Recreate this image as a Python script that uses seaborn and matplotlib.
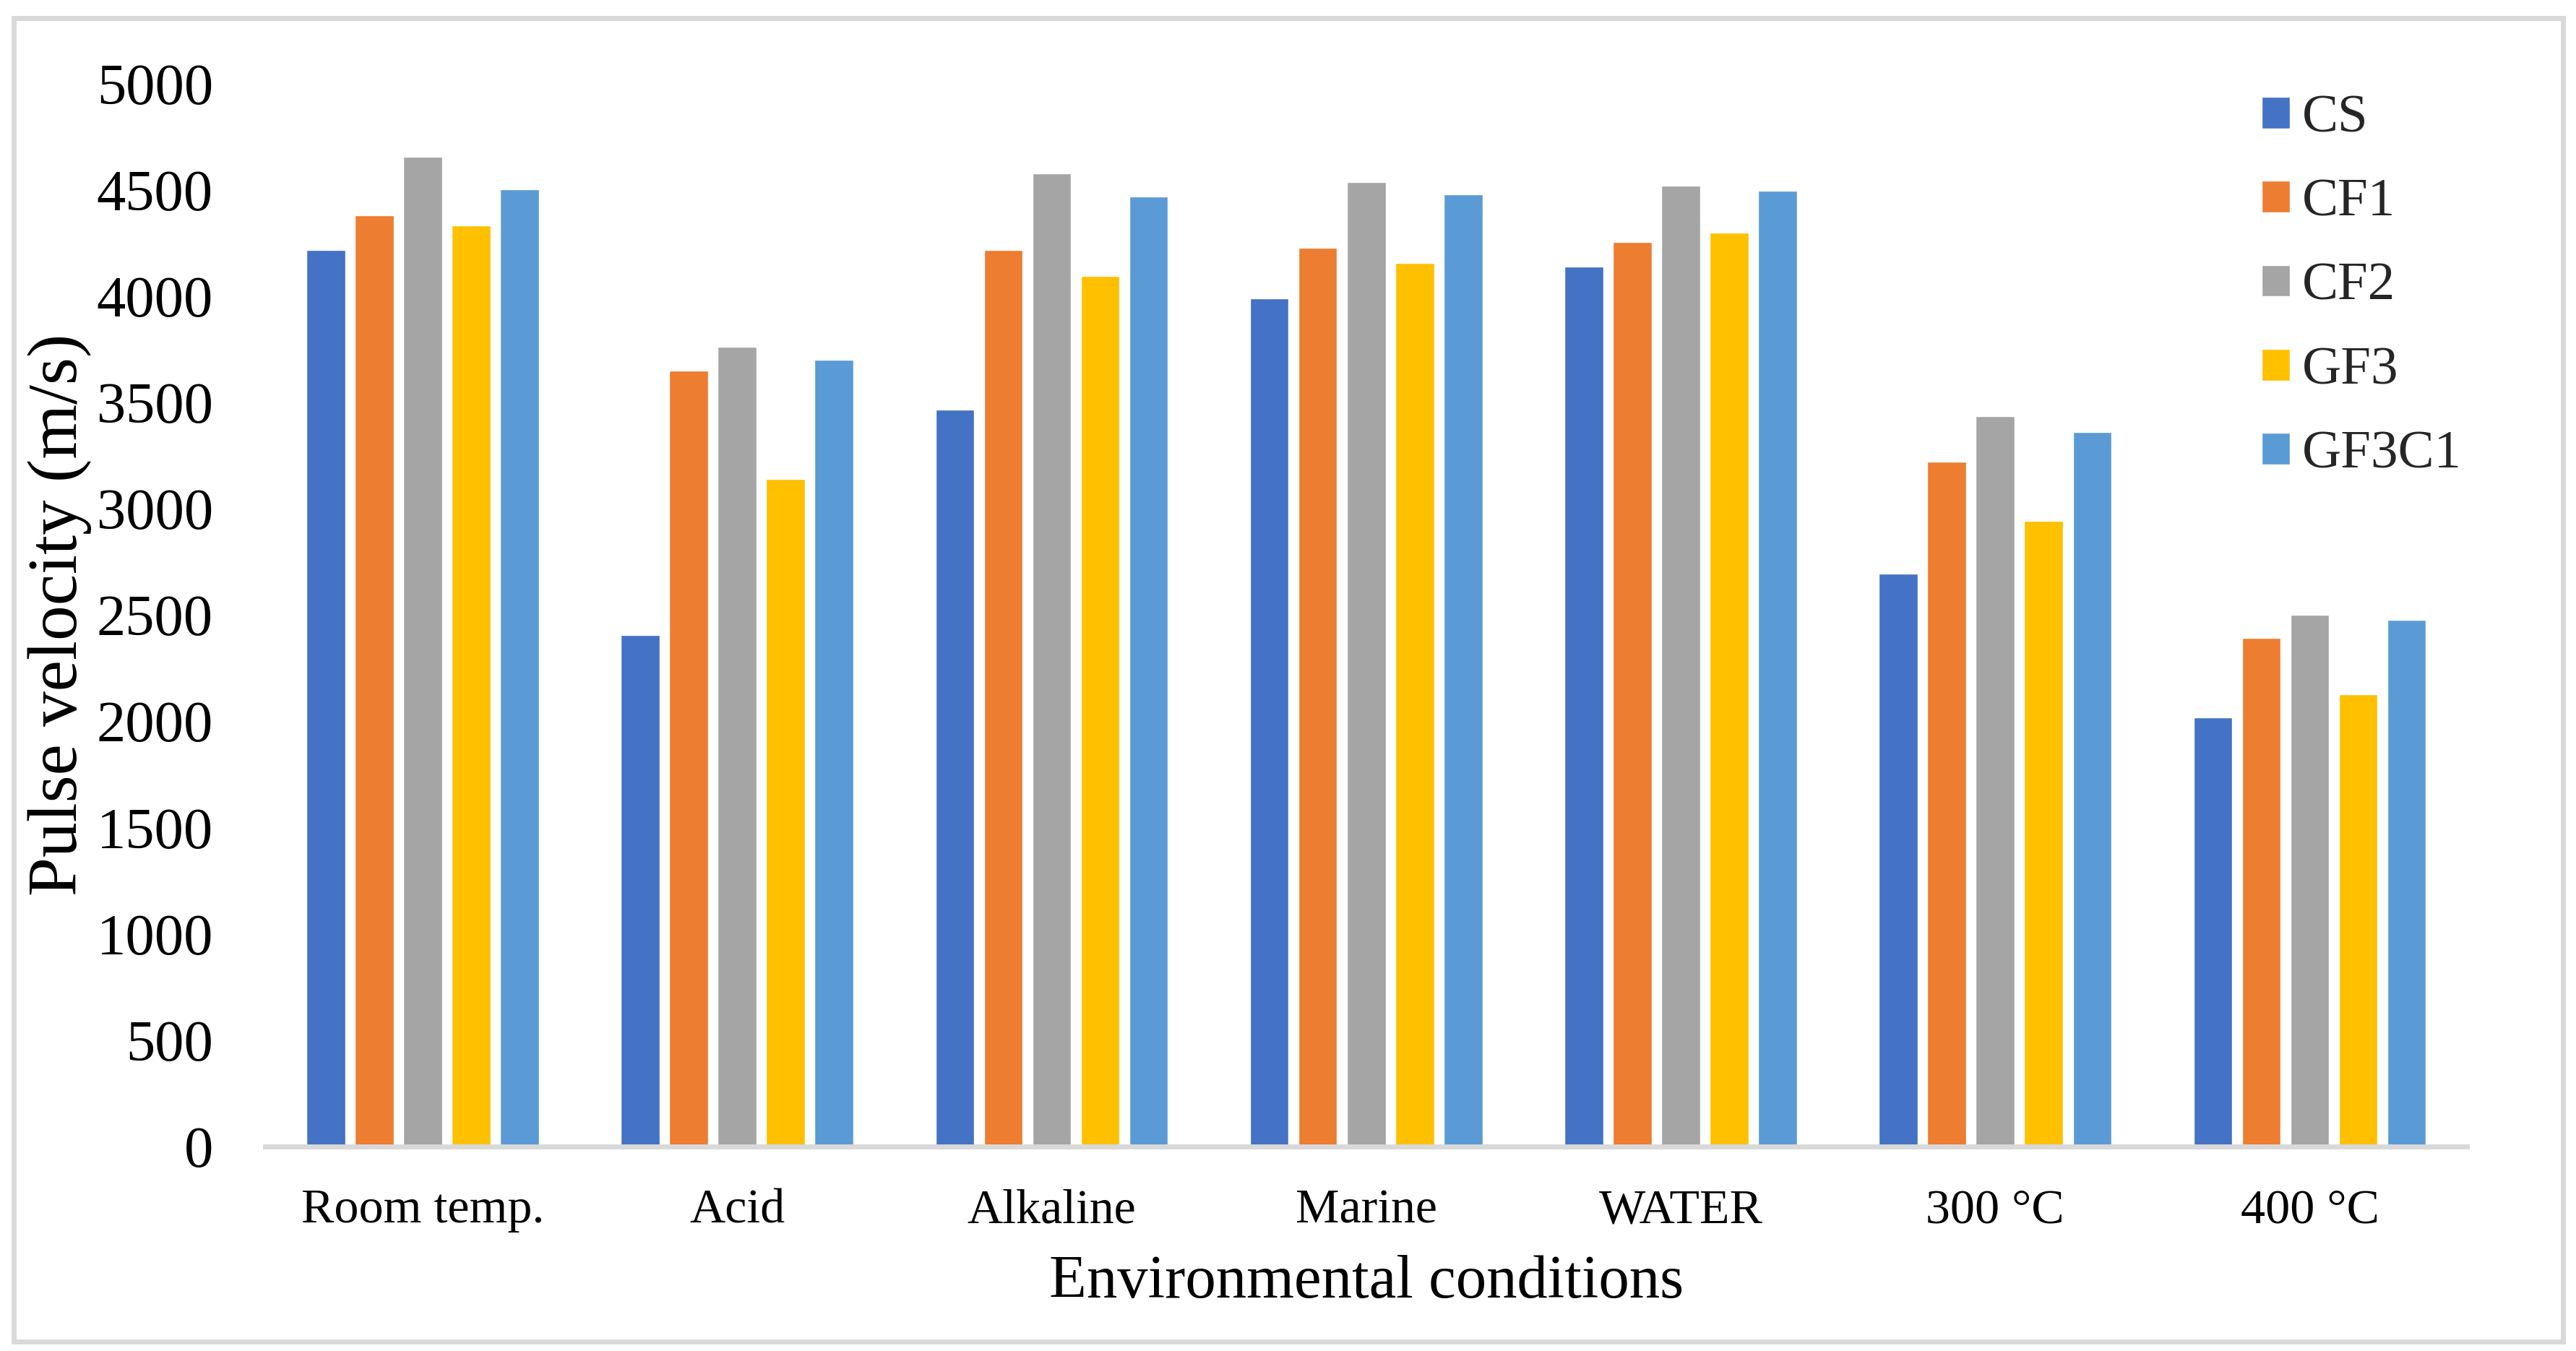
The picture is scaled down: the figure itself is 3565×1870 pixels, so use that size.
import matplotlib
matplotlib.use("Agg")
import matplotlib.pyplot as plt
from matplotlib.patches import Rectangle
import seaborn as sns
import pandas as pd

# data
conditions = ["Room temp.", "Acid", "Alkaline", "Marine", "WATER", "300 °C", "400 °C"]
mixes = ["CS", "CF1", "CF2", "GF3", "GF3C1"]
cs = [4218, 2405, 3467, 3990, 4138, 2694, 2017]
cf1 = [4379, 3651, 4216, 4226, 4256, 3222, 2392]
cf2 = [4655, 3763, 4577, 4535, 4518, 3436, 2500]
gf3 = [4332, 3140, 4096, 4155, 4298, 2942, 2129]
gf3c1 = [4501, 3699, 4467, 4478, 4495, 3362, 2477]
colors = ["#4472C4", "#ED7D31", "#A5A5A5", "#FFC000", "#5B9BD5"]

series = dict(zip(mixes, [cs, cf1, cf2, gf3, gf3c1]))
rows = []
for mix, vals in series.items():
    for cond, v in zip(conditions, vals):
        rows.append({"condition": cond, "mix": mix, "velocity": v})
df = pd.DataFrame(rows)

sns.set_theme(style="white")
plt.rcParams["font.family"] = ["Liberation Serif", "DejaVu Serif"]

fig = plt.figure(figsize=(35.65, 18.7), dpi=100)
ax = fig.add_axes([0.103, 0.1513, 0.8547, 0.7869])

sns.barplot(data=df, x="condition", y="velocity", hue="mix", order=conditions,
            hue_order=mixes, palette=colors, saturation=1, width=0.77, gap=0.2,
            errorbar=None, ax=ax)

ax.set_xlim(-0.5, len(conditions) - 0.5)
ax.set_ylim(0, 5000)
ax.set_yticks(range(0, 5001, 500))
ax.tick_params(axis="both", length=0, colors="black")
ax.tick_params(axis="y", labelsize=58, pad=52)
ax.tick_params(axis="x", labelsize=49, pad=42)
for s in ["left", "right", "top"]:
    ax.spines[s].set_visible(False)
ax.spines["bottom"].set_color("#D9D9D9")
ax.spines["bottom"].set_linewidth(5)
ax.grid(False)

ax.set_xlabel("Environmental conditions", fontsize=61, labelpad=22, color="black")
ax.set_ylabel("Pulse velocity (m/s)", fontsize=70, labelpad=5, color="black")

ax.legend(loc="upper left", bbox_to_anchor=(0.8695, 0.946), bbox_transform=fig.transFigure,
          frameon=False, fontsize=54, handlelength=0.52, handleheight=0.52,
          handletextpad=0.23, labelspacing=0.65, borderaxespad=0)

fig.patches.append(Rectangle((0.0052, 0.0068), 0.9898, 0.9800, transform=fig.transFigure,
                             fill=False, edgecolor="#D9D9D9", linewidth=5))

fig.savefig("out.png", dpi=100)
